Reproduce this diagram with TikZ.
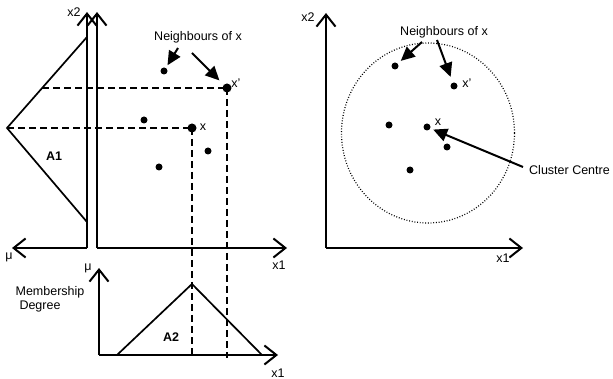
\documentclass[tikz,border=0pt]{standalone}
\usepackage{fontspec}
\setmainfont{Liberation Sans}
\usetikzlibrary{arrows.meta,shapes.geometric}
\tikzset{
  lbl/.style={inner sep=0pt, font=\fontsize{12.5}{14}\selectfont},
  bl/.style={lbl, font=\fontsize{12.5}{14}\selectfont\bfseries},
  axis/.style={line width=2pt, -{Straight Barb[length=12pt,width=19pt]}},
  tri/.style={line width=1.7pt},
  guide/.style={line width=1.8pt, dash pattern=on 7pt off 4pt},
  annot/.style={line width=2pt, -{Triangle[length=14pt,width=13pt]}},
  bigdot/.style={circle, fill, inner sep=0pt, minimum size=9pt},
  dot/.style={circle, fill, inner sep=0pt, minimum size=7pt},
}
\begin{document}
\begin{tikzpicture}[x=1pt,y=-1pt]
\useasboundingbox (0,0) rectangle (613,379);
% ---------- left figure ----------
\coordinate (o1) at (87,248);
\coordinate (o2) at (97,248);
\coordinate (t1) at (87,12);
\coordinate (t2) at (97,12);
\coordinate (mu1) at (12,248);
\coordinate (x1a) at (287,248);
\draw[axis] (o1) -- (t1);
\draw[axis] (o2) -- (t2);
\draw[axis] (o1) -- (mu1);
\draw[axis] (o2) -- (x1a);
\node[lbl] (lx2) at (74,12) {x2};
\node[lbl] (lmu) at (9,257) {μ};
\node[lbl] (lx1) at (279,265) {x1};
% A1 triangle
\coordinate (a1t) at (87,37);
\coordinate (a1p) at (7,128);
\coordinate (a1b) at (87,222);
\draw[tri] (a1t) -- (a1p) -- (a1b);
\node[bl] (A1) at (54,156) {A1};
% dots
\node[bigdot] (xL) at (192,128) {};
\node[bigdot] (xpL) at (227,88) {};
\node[dot] (n1) at (164,71) {};
\node[dot] (n2) at (144,120) {};
\node[dot] (n3) at (208,151) {};
\node[dot] (n4) at (159,167) {};
\node[lbl] (lxL) at (203,127) {x};
\node[lbl] (lxpL) at (236,83) {x'};
% dashed guides
\coordinate (h1) at (42,88);
\coordinate (bxL) at (192,358);
\coordinate (bxpL) at (227,358);
\draw[guide] (h1) -- (xpL.center);
\draw[guide] (a1p) -- (xL.center);
\draw[guide] (xL.center) -- (bxL);
\draw[guide] (xpL.center) -- (bxpL);
% neighbours
\node[lbl] (nbL) at (198,37) {Neighbours of x};
\coordinate (s1) at (178,48);
\coordinate (s2) at (192,53);
\draw[annot, shorten >=3pt] (s1) -- (n1);
\draw[annot, shorten >=6pt] (s2) -- (xpL);
% ---------- bottom figure ----------
\coordinate (o3) at (99,355);
\coordinate (t3) at (99,268);
\coordinate (x1b) at (278,355);
\draw[axis] (o3) -- (t3);
\draw[axis] (o3) -- (x1b);
\node[lbl] (bmu) at (88,268) {μ};
\node[lbl] (bx1) at (278,373) {x1};
\node[lbl] (mem) at (50,292) {Membership};
\node[lbl] (deg) at (40,306) {Degree};
\coordinate (a2l) at (117,355);
\coordinate (a2p) at (192,284);
\coordinate (a2r) at (262,355);
\draw[tri] (a2l) -- (a2p) -- (a2r);
\node[bl] (A2) at (171,337) {A2};
% ---------- right figure ----------
\coordinate (o4) at (326,248);
\coordinate (t4) at (326,13);
\coordinate (x1c) at (523,248);
\draw[axis] (o4) -- (t4);
\draw[axis] (o4) -- (x1c);
\node[lbl] (rx2) at (308,17) {x2};
\node[lbl] (rx1) at (503,258) {x1};
\node[draw, ellipse, line width=1.2pt, dash pattern=on 0.9pt off 1.8pt,
      minimum width=173pt, minimum height=180pt, inner sep=0pt] (cl) at (428,133) {};
\node[dot] (n5) at (395,66) {};
\node[dot] (xpR) at (454,86) {};
\node[dot] (n6) at (389,125) {};
\node[dot] (xR) at (427,127) {};
\node[dot] (n7) at (447,147) {};
\node[dot] (n8) at (410,170) {};
\node[lbl] (lxR) at (438,122) {x};
\node[lbl] (lxpR) at (467,83) {x'};
\node[lbl] (nbR) at (444,32) {Neighbours of x};
\node[lbl, anchor=west] (ccR) at (529,170) {Cluster Centre};
\coordinate (s3) at (422,42);
\coordinate (s4) at (437,40);
\coordinate (s5) at (523,167);
\draw[annot, shorten >=4pt] (s3) -- (n5);
\draw[annot, shorten >=6pt] (s4) -- (xpR);
\draw[annot, shorten >=3pt] (s5) -- (xR);
\end{tikzpicture}
\end{document}
